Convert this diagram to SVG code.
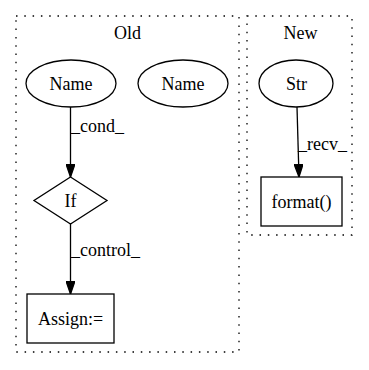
<svg xmlns="http://www.w3.org/2000/svg" width="369" height="370" viewBox="0 0 369 370">
  <style>
    text { font-family: "Liberation Serif", "Times New Roman", Times, "DejaVu Serif", serif; font-size: 18px; fill: #000; }
    .mid { text-anchor: middle; }
    .cluster { fill: none; stroke: #000; stroke-width: 1.3; stroke-dasharray: 1.5 6.8; }
    .node { fill: #fff; stroke: #000; stroke-width: 1.3; }
    .edge { fill: none; stroke: #000; stroke-width: 1.3; }
    .head { fill: #000; stroke: #000; stroke-width: 1.3; }
  </style>
  <defs>
    <marker id="arrow" viewBox="0 0 13 9" refX="13" refY="4.5" markerWidth="13" markerHeight="9" markerUnits="userSpaceOnUse" orient="auto">
      <path d="M0,0 L13,4.5 L0,9 Z" class="head"/>
    </marker>
  </defs>
  <rect width="369" height="370" fill="#fff"/>

  <!-- clusters -->
  <g id="cluster_old">
    <rect class="cluster" x="16" y="16" width="223" height="336"/>
    <text class="mid" x="127.5" y="38.5" font-family="Liberation Serif, serif">Old</text>
  </g>
  <g id="cluster_new">
    <rect class="cluster" x="247" y="16" width="105" height="219"/>
    <text class="mid" x="300.5" y="38.5" font-family="Liberation Serif, serif">New</text>
  </g>

  <!-- connectors -->
  <g id="edges" font-family="Liberation Serif, serif">
    <path class="edge" d="M70.5,107 L70.5,177" marker-end="url(#arrow)"/>
    <text x="71" y="132">_cond_</text>
    <path class="edge" d="M70.5,224 L70.5,294" marker-end="url(#arrow)"/>
    <text x="71" y="256">_control_</text>
    <path class="edge" d="M297,107 L299,177" marker-end="url(#arrow)"/>
    <text x="298" y="150">_recv_</text>
  </g>

  <!-- nodes -->
  <g id="name1">
    <ellipse class="node" cx="71" cy="83.5" rx="45" ry="23.5"/>
    <text class="mid" x="71" y="89.5">Name</text>
  </g>
  <g id="name2">
    <ellipse class="node" cx="183" cy="83.5" rx="45" ry="23.5"/>
    <text class="mid" x="183" y="89.5">Name</text>
  </g>
  <g id="if">
    <polygon class="node" points="70.5,177 107,200.5 70.5,224 34,200.5"/>
    <text class="mid" x="70.5" y="207">If</text>
  </g>
  <g id="assign">
    <rect class="node" x="27" y="294" width="87" height="49"/>
    <text class="mid" x="70.5" y="325">Assign:=</text>
  </g>
  <g id="str">
    <ellipse class="node" cx="296" cy="83.5" rx="37" ry="23.5"/>
    <text class="mid" x="296.5" y="89.5">Str</text>
  </g>
  <g id="format">
    <rect class="node" x="261" y="177" width="81" height="49"/>
    <text class="mid" x="301.5" y="207.5">format()</text>
  </g>
</svg>
